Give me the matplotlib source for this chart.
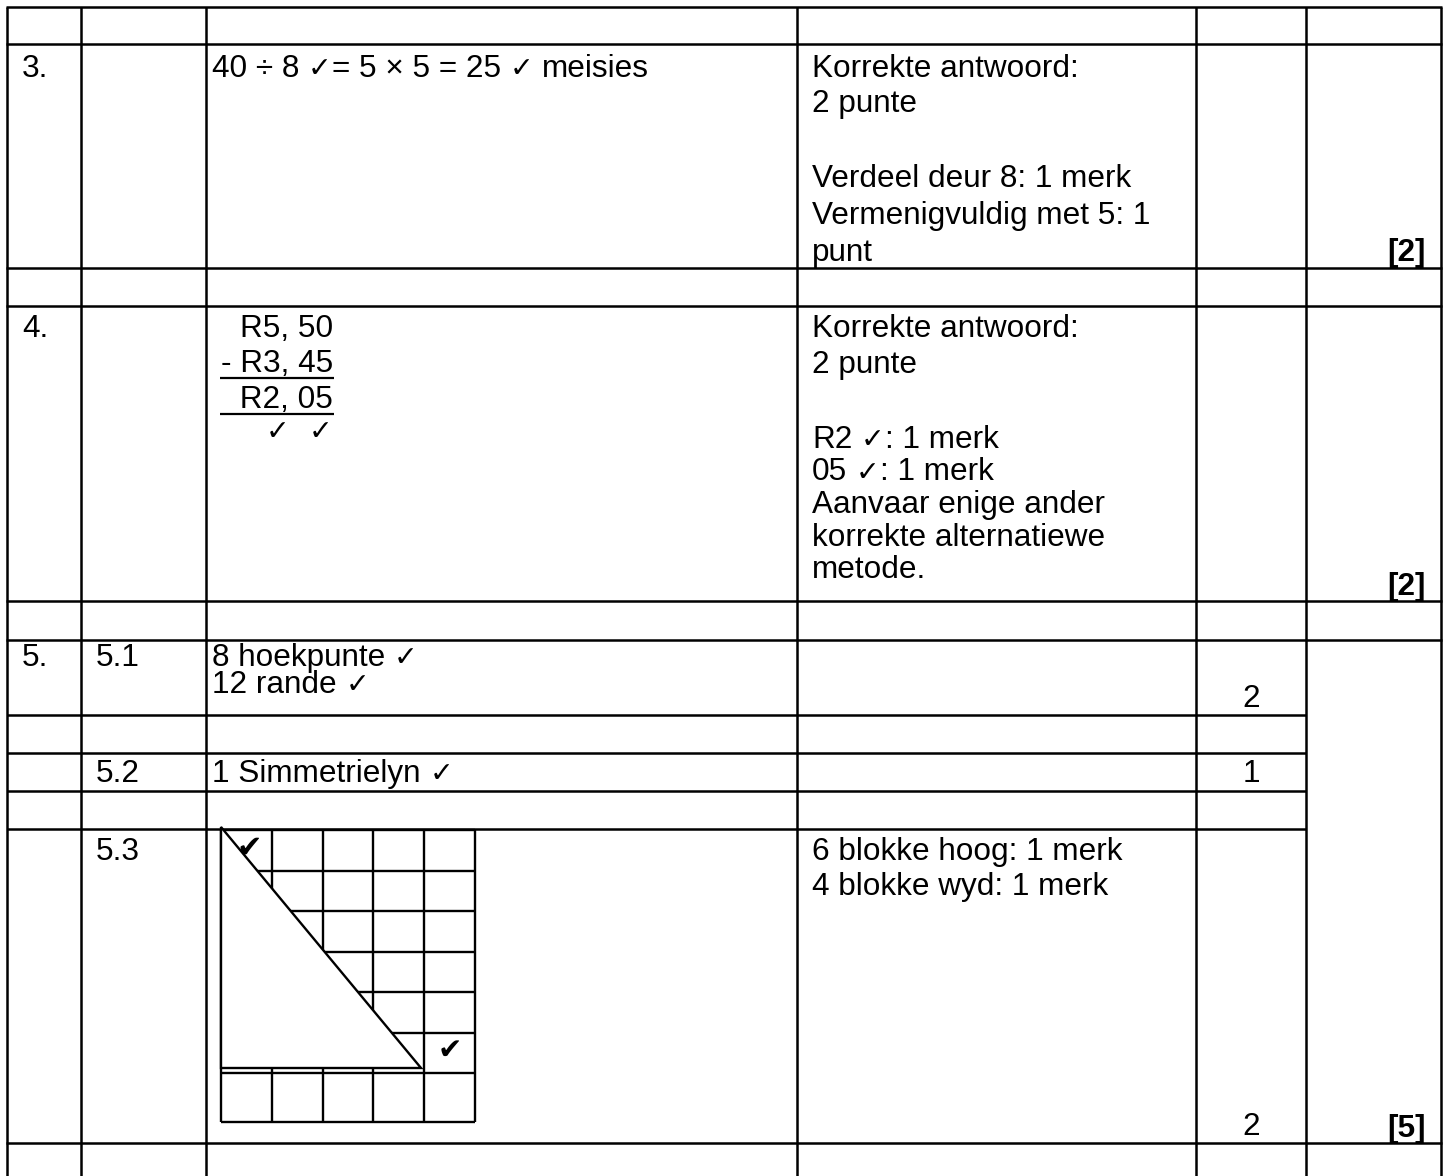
import matplotlib
matplotlib.use("Agg")
import matplotlib.pyplot as plt

FONT = ['Liberation Sans', 'DejaVu Sans']
FS = 22.7
CHK = '\u2713'
CHK_BIG = '\u2714'

# ---- table content ----
q_nums = ["3.", "4.", "5."]
sub_nums = ["5.1", "5.2", "5.3"]
ans_q3 = "40 \u00f7 8 " + CHK + "= 5 \u00d7 5 = 25 " + CHK + " meisies"
ans_q4 = ["R5, 50", "- R3, 45", " R2, 05"]
ans_51 = ["8 hoekpunte " + CHK, "12 rande " + CHK]
ans_52 = ["1 Simmetrielyn " + CHK]
notes_q3 = ["Korrekte antwoord:", "2 punte", "", "Verdeel deur 8: 1 merk",
            "Vermenigvuldig met 5: 1", "punt"]
notes_q4 = ["Korrekte antwoord:", "2 punte", "", "R2 " + CHK + ": 1 merk",
            "05 " + CHK + ": 1 merk", "Aanvaar enige ander",
            "korrekte alternatiewe", "metode."]
notes_53 = ["6 blokke hoog: 1 merk", "4 blokke wyd: 1 merk"]
sub_marks = ["2", "1", "2"]
totals = ["[2]", "[2]", "[5]"]
grid_cols, grid_rows = 5, 7       # squares in the drawing
tri_wide, tri_high = 4, 6         # triangle: 4 blocks wide, 6 blocks high

# ---- layout (pixels) ----
W, H = 1448, 1176
col_x = [7, 81, 206, 797, 1196, 1306, 1441]
full_rows = [7, 44, 268, 306, 601, 640, 1143]
part_rows = [715, 753, 791, 829]

fig = plt.figure(figsize=(W / 100, H / 100), dpi=100)
ax = fig.add_axes([0, 0, 1, 1])
ax.set_xlim(0, W)
ax.set_ylim(H, 0)
ax.axis('off')
r = fig.canvas.get_renderer()

lw = 1.8
ax.vlines(col_x, 7, H, color='black', lw=lw)
ax.hlines(full_rows, col_x[0] - 1, col_x[-1] + 1, color='black', lw=lw)
ax.hlines(part_rows, col_x[0], col_x[5], color='black', lw=lw)

space_w = 0.278 * FS * 100 / 72
CHK_FS = FS * 0.9


def rich_text(x, y, s, fs=FS, **kw):
    # text with smaller tick marks inside
    for i, piece in enumerate(s.split(CHK)):
        if i > 0:
            t = ax.text(x, y, CHK, fontsize=CHK_FS, family='DejaVu Sans',
                        va='baseline')
            x = t.get_window_extent(r).x1
        lead = len(piece) - len(piece.lstrip(' '))
        trail = len(piece) - len(piece.rstrip(' '))
        core = piece.strip(' ')
        x += lead * space_w
        if core:
            t = ax.text(x, y, core, fontsize=fs, family=FONT, va='baseline', **kw)
            x = t.get_window_extent(r).x1
        x += trail * space_w
    return x


def lines(x, y, items, pitch, blank):
    for s in items:
        if s == "":
            y += blank
            continue
        rich_text(x, y, s)
        y += pitch


def txt(x, y, s, **kw):
    ax.text(x, y, s, fontsize=FS, family=FONT, va='baseline', **kw)


x_q, x_sub, x_ans, x_note = 22, 96, 212, 812
x_mark = (col_x[4] + col_x[5]) / 2
x_tot = 1426

# question 3
txt(x_q, 77, q_nums[0])
rich_text(x_ans, 77, ans_q3)
lines(x_note, 77, notes_q3[:2], 35, 0)
lines(x_note, 187, notes_q3[3:], 37, 0)
txt(x_tot, 261, totals[0], ha='right', fontweight='bold')

# question 4
txt(x_q, 337, q_nums[1])
ans_right = 333
for i, s in enumerate(ans_q4):
    txt(ans_right, 337 + i * 35.5, s, ha='right')
ax.hlines([378, 414], 220, 334, color='black', lw=1.6)
for dx in (55, 12):
    ax.text(ans_right - dx, 440, CHK, fontsize=CHK_FS, family='DejaVu Sans',
            va='baseline', ha='center')
lines(x_note, 337, notes_q4[:2], 36, 0)
lines(x_note, 448, notes_q4[3:], 32.5, 0)
txt(x_tot, 595, totals[1], ha='right', fontweight='bold')

# question 5
txt(x_q, 666, q_nums[2])
txt(x_sub, 666, sub_nums[0])
lines(x_ans, 666, ans_51, 27, 0)
txt(x_mark, 707, sub_marks[0], ha='center')

txt(x_sub, 782, sub_nums[1])
lines(x_ans, 782, ans_52, 33, 0)
txt(x_mark, 782, sub_marks[1], ha='center')

txt(x_sub, 860, sub_nums[2])
lines(x_note, 860, notes_53, 35, 0)
txt(x_mark, 1135, sub_marks[2], ha='center')
txt(x_tot, 1137, totals[2], ha='right', fontweight='bold')

# squared drawing with the triangle
gx0, gy0, gx1, gy1 = 221, 830, 475, 1122
cw = (gx1 - gx0) / grid_cols
ch = 40.5
grid_lw = 1.7
ax.vlines([gx0 + i * cw for i in range(grid_cols + 1)], gy0, gy1, color='black', lw=grid_lw)
ax.hlines([gy0 + j * ch for j in range(grid_rows)] + [gy1], gx0, gx1, color='black', lw=grid_lw)
base_y = gy0 + tri_high * ch - 5
tri = plt.Polygon([(gx0, gy0 - 3), (gx0, base_y), (gx0 + tri_wide * cw - 3, base_y)],
                  closed=True, facecolor='white', edgecolor='black', lw=grid_lw, zorder=3)
ax.add_patch(tri)
ax.text(gx0 + 0.55 * cw, gy0 + 0.45 * ch, CHK_BIG, fontsize=22,
        family='DejaVu Sans', ha='center', va='center', zorder=4)
ax.text(gx0 + 4.5 * cw, gy0 + 5.45 * ch, CHK_BIG, fontsize=21,
        family='DejaVu Sans', ha='center', va='center', zorder=4)

fig.savefig("out.png", dpi=100, facecolor='white')
